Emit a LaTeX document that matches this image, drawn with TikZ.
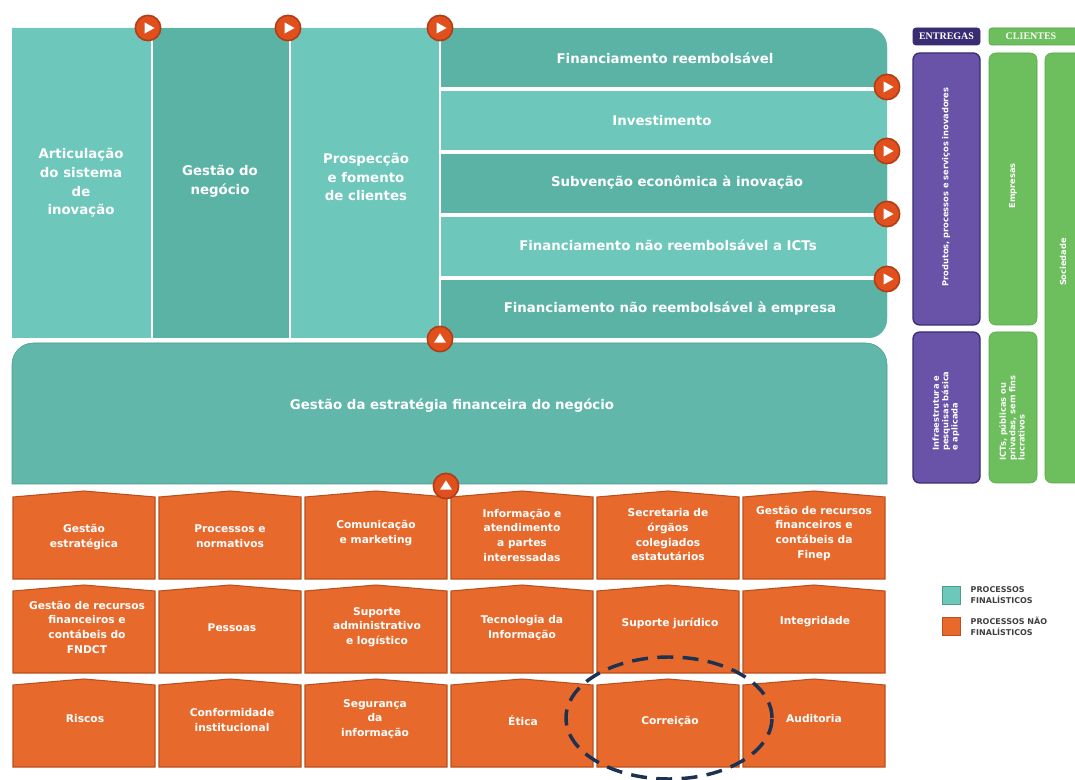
\documentclass[tikz,border=0pt]{standalone}
\usepackage{fontspec}
\setmainfont{DejaVu Sans}
\newfontfamily\serifaba{Liberation Serif}
\usetikzlibrary{positioning, arrows.meta}

\definecolor{tealL}{HTML}{6DC7BA}
\definecolor{tealD}{HTML}{5BB3A6}
\definecolor{tealM}{HTML}{60B7AA}
\definecolor{tealE}{HTML}{4A9C90}
\definecolor{laranja}{HTML}{E8692C}
\definecolor{laranjaE}{HTML}{B9501D}
\definecolor{corBotao}{HTML}{E0501D}
\definecolor{corBotaoE}{HTML}{B23C16}
\definecolor{roxo}{HTML}{6853A8}
\definecolor{roxoE}{HTML}{3A2C72}
\definecolor{verde}{HTML}{6CBF5C}
\definecolor{verdeE}{HTML}{58A44A}
\definecolor{marinho}{HTML}{1D3151}
\definecolor{cinzaTxt}{HTML}{404040}

\tikzset{
  rotulo/.style={text=white, font=\bfseries\fontsize{10}{14}\selectfont, align=center},
  rotuloP/.style={text=white, font=\bfseries\fontsize{8}{11}\selectfont, align=center},
  vertical/.style={text=white, font=\bfseries\fontsize{6.2}{7}\selectfont, rotate=90, align=left},
  aba/.style={text=white, font=\serifaba\bfseries\fontsize{7.5}{8}\selectfont},
  legenda/.style={text=cinzaTxt, font=\bfseries\fontsize{6}{8.5}\selectfont, align=left, anchor=west},
  botao/.style={circle, fill=corBotao, draw=corBotaoE, line width=1.2pt, minimum size=19pt, inner sep=0pt},
  botaoD/.style={botao, path picture={\fill[white] ([shift={(-2.6pt,4.2pt)}]path picture bounding box.center) -- ++(7.5pt,-4.2pt) -- ++(-7.5pt,-4.2pt) -- cycle;}},
  botaoC/.style={botao, path picture={\fill[white] ([shift={(-4.5pt,-2.8pt)}]path picture bounding box.center) -- ++(9pt,0pt) -- ++(-4.5pt,7pt) -- cycle;}},
}

\begin{document}
\begin{tikzpicture}[x=0.75pt, y=-0.75pt]
    \useasboundingbox[fill=white] (0,0) rectangle (1075,780);

    % bloco superior (processos finalísticos)
    \begin{scope}
      \clip (12,338) -- (12,28) [rounded corners=14pt] -- (887,28) -- (887,338) [sharp corners] -- (12,338) -- cycle;
      \fill[tealL] (0,0) rectangle (900,350);
      \fill[tealD] (152,28) rectangle (290,338);
      \fill[tealD] (440,28) rectangle (900,89);
      \fill[tealD] (440,152) rectangle (900,215);
      \fill[tealD] (440,278) rectangle (900,350);
    \end{scope}

    % separadores
    \draw[white, line width=1.2pt] (152,28) -- (152,338);
    \draw[white, line width=1.2pt] (290,28) -- (290,338);
    \draw[white, line width=2pt] (440,28) -- (440,338);
    \foreach \y in {89,152,215,278}
      \draw[white, line width=2.5pt] (440,\y) -- (887,\y);

    % textos do bloco superior
    \node[rotulo] (articulacao) at (81,183) {Articulação\\do sistema\\de\\inovação};
    \node[rotulo] (gestaoNeg) at (220,181) {Gestão do\\negócio};
    \node[rotulo] (prospeccao) at (366,177) {Prospecção\\e fomento\\de clientes};
    \node[rotulo] (finReemb) at (665,58) {Financiamento reembolsável};
    \node[rotulo] (investimento) at (662,121) {Investimento};
    \node[rotulo] (subvencao) at (677,182) {Subvenção econômica à inovação};
    \node[rotulo] (finICT) at (668,245) {Financiamento não reembolsável a ICTs};
    \node[rotulo] (finEmp) at (670,309) {Financiamento não reembolsável à empresa};

    % bloco do meio
    \draw[tealE, fill=tealM] (12,484) [rounded corners=16pt] -- (12,343) -- (887,343) [sharp corners] -- (887,484) -- cycle;
    \node[rotulo] (estrategia) at (452,406) {Gestão da estratégia financeira do negócio};

    % processos não finalísticos
    \foreach \c in {0,...,5}
      \foreach \r in {0,1,2}
        \draw[laranjaE, fill=laranja, line width=0.8pt] (13+146*\c, 497+94*\r) -- (84+146*\c, 491+94*\r) -- (155+146*\c, 497+94*\r) -- (155+146*\c, 579+94*\r) -- (13+146*\c, 579+94*\r) -- cycle;

    \node[rotuloP] (gEstrat) at (84,537) {Gestão\\estratégica};
    \node[rotuloP] (procNorm) at (230,536) {Processos e\\normativos};
    \node[rotuloP] (comunic) at (376,533) {Comunicação\\e marketing};
    \node[rotuloP] (informacao) at (522,535) {Informação e\\atendimento\\a partes\\interessadas};
    \node[rotuloP] (secretaria) at (668,535) {Secretaria de\\órgãos\\colegiados\\estatutários};
    \node[rotuloP] (recFinep) at (814,533) {Gestão de recursos\\financeiros e\\contábeis da\\Finep};

    \node[rotuloP] (recFNDCT) at (87,627) {Gestão de recursos\\financeiros e\\contábeis do\\FNDCT};
    \node[rotuloP] (pessoas) at (232,628) {Pessoas};
    \node[rotuloP] (suporteAdm) at (377,627) {Suporte\\administrativo\\e logístico};
    \node[rotuloP] (tecInfo) at (522,628) {Tecnologia da\\Informação};
    \node[rotuloP] (juridico) at (670,623) {Suporte jurídico};
    \node[rotuloP] (integridade) at (815,622) {Integridade};

    \node[rotuloP] (riscos) at (85,719) {Riscos};
    \node[rotuloP] (conformidade) at (232,720) {Conformidade\\institucional};
    \node[rotuloP] (seguranca) at (375,719) {Segurança\\da\\informação};
    \node[rotuloP] (etica) at (523,721) {Ética};
    \node[rotuloP] (correicao) at (670,721) {Correição};
    \node[rotuloP] (auditoria) at (814,719) {Auditoria};

    % botões
    \node[botaoD] (bt1) at (148,28) {};
    \node[botaoD] (bt2) at (288,28) {};
    \node[botaoD] (bt3) at (440,28) {};
    \node[botaoD] (bt4) at (887,87) {};
    \node[botaoD] (bt5) at (887,151) {};
    \node[botaoD] (bt6) at (887,214) {};
    \node[botaoD] (bt7) at (887,279) {};
    \node[botaoC] (bt8) at (440,339) {};
    \node[botaoC] (bt9) at (446,486) {};

    % entregas e clientes
    \draw[roxoE, fill=roxoE, rounded corners=2pt] (913,28) rectangle (980,45);
    \node[aba] (entregas) at (946.5,36.5) {ENTREGAS};
    \draw[verdeE, fill=verde, rounded corners=2pt] (989,28) rectangle (1085,45);
    \node[aba] (clientes) at (1031,36.5) {CLIENTES};

    \draw[roxoE, fill=roxo, line width=1pt, rounded corners=5pt] (913,53) rectangle (980,325);
    \draw[roxoE, fill=roxo, line width=1pt, rounded corners=5pt] (913,332) rectangle (980,483);
    \draw[verdeE, fill=verde, rounded corners=5pt] (989,53) rectangle (1037,325);
    \draw[verdeE, fill=verde, rounded corners=5pt] (989,332) rectangle (1037,483);
    \draw[verdeE, fill=verde, rounded corners=5pt] (1045,53) rectangle (1090,483);

    \node[vertical] (produtos) at (946,187) {Produtos, processos e serviços inovadores};
    \node[vertical] (infra) at (946,411) {Infraestrutura e\\pesquisas básica\\e aplicada};
    \node[vertical] (empresas) at (1013,186) {Empresas};
    \node[vertical] (icts) at (1012,418) {ICTs, públicas ou\\privadas, sem fins\\lucrativos};
    \node[vertical] (sociedade) at (1063,262) {Sociedade};

    % legenda
    \draw[tealE, fill=tealL] (942,586) rectangle (960,604);
    \node[legenda] (legFin) at (966,595) {PROCESSOS\\FINALÍSTICOS};
    \draw[laranjaE, fill=laranja] (942,617) rectangle (960,635);
    \node[legenda] (legNao) at (966,626) {PROCESSOS NÃO\\FINALÍSTICOS};

    % destaque
    \draw[marinho, line width=2.6pt, dash pattern=on 12pt off 7pt] (669,718) ellipse [x radius=77.25pt, y radius=45.75pt];
  \end{tikzpicture}
\end{document}
